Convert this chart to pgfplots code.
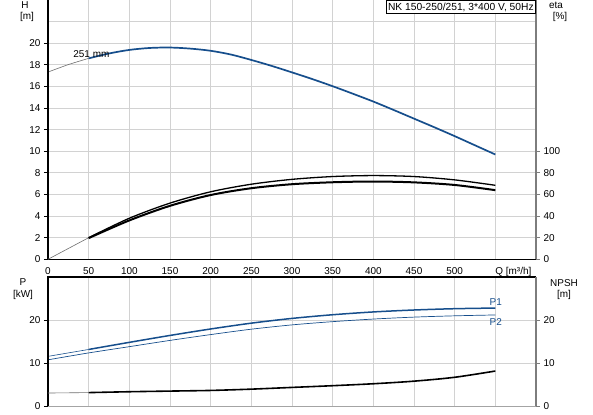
\documentclass[border=0pt]{standalone}
\usepackage{fontspec}
\setmainfont{Liberation Sans}
\usepackage{pgfplots}
\pgfplotsset{compat=1.18}
\definecolor{gblue}{RGB}{22,78,140}
\definecolor{ggrid}{RGB}{210,210,210}
\definecolor{gaxis}{RGB}{125,125,125}
\definecolor{gthin}{RGB}{110,110,110}

\pgfplotsset{
  gbase/.style={
    scale only axis, width=488bp, xmin=0, xmax=600,
    /pgf/number format/assume math mode=true,
    tick label style={font=\fontsize{10}{12}\selectfont},
    axis line style={draw=none},
    tick align=outside,
    major tick length=4bp,
    minor tick length=0pt,
    y tick style={black, line width=0.8bp},
    x tick style={draw=none},
    grid style={ggrid, line width=1bp},
    clip=false,
  },
  gsec/.style={
    gbase, xtick=\empty, ytick pos=right,
    y tick style={gaxis, line width=0.8bp},
  },
}

\begin{document}
\begin{tikzpicture}[font=\fontsize{10}{12}\selectfont]

% ---------- upper chart: H and eta ----------
\begin{axis}[gbase, at={(0,0)}, anchor=south west, height=259.3bp,
  ymin=0, ymax=24, ytick pos=left,
  xtick={0,50,...,500},
  extra x ticks={550},
  extra x tick labels={Q [m³/h]},
  extra x tick style={tick label style={anchor=north west, xshift=-3.5bp}},
  ytick={0,2,...,20}, minor ytick={22},
  xmajorgrids, ymajorgrids, yminorgrids,
  minor grid style={ggrid, line width=1bp},
  xticklabel style={yshift=-0.5bp},
]
  \addplot[gthin, line width=0.6bp, smooth] coordinates {
    (0,17.33) (25,18.02) (50,18.6)
  };
  \addplot[gblue, line width=1.7bp, smooth] coordinates {
    (50,18.6) (75,19.05) (100,19.38) (125,19.56) (150,19.6) (175,19.5)
    (200,19.3) (225,18.95) (250,18.45) (275,17.9) (300,17.3) (325,16.68)
    (350,16.02) (375,15.32) (400,14.6) (425,13.82) (450,13.02) (475,12.22)
    (500,11.4) (525,10.55) (550,9.7)
  };
  \node[anchor=west, inner sep=0pt] at (axis cs:31,18.95) {251 mm};
  \draw[black, line width=1.5bp] (rel axis cs:0,1) -- (rel axis cs:0,0) -- (rel axis cs:1,0);
  \draw[gaxis, line width=1.5bp] (rel axis cs:1,0) -- (rel axis cs:1,1);
  \node[draw=black, line width=0.6bp, fill=white, anchor=north east,
        inner xsep=2bp, inner ysep=2.3bp, font=\fontsize{10.3}{11}\selectfont]
    at (rel axis cs:1,1) {NK 150-250/251, 3*400 V, 50Hz};
\end{axis}

\begin{axis}[gsec, at={(0,0)}, anchor=south west, height=259.3bp,
  ymin=0, ymax=240, ytick={0,20,...,100}]
  \addplot[gthin, line width=0.6bp] coordinates {(0,0) (50,20)};
  \addplot[black, line width=1.3bp, smooth] coordinates {
    (50,20) (100,38) (150,52) (200,62.5) (250,69.5) (300,74) (350,76.6)
    (400,77.5) (450,76.6) (500,73.5) (550,68.5)
  };
  \addplot[black, line width=2bp, smooth] coordinates {
    (50,19.6) (100,36) (150,49.5) (200,59.5) (250,65.8) (300,69.5)
    (350,71.3) (400,72) (450,71.2) (500,68.8) (550,64)
  };
\end{axis}

% ---------- lower chart: P and NPSH ----------
\begin{axis}[gbase, at={(0,-17.7bp)}, anchor=north west, height=129.4bp,
  ymin=0, ymax=30, ytick pos=left,
  xtick={0,50,...,550}, xticklabels={},
  ytick={0,10,20},
  xmajorgrids, ymajorgrids,
]
  \addplot[gblue, line width=0.6bp, smooth] coordinates {
    (0,11.6) (25,12.4) (50,13.2)
  };
  \addplot[gblue, line width=1.5bp, smooth] coordinates {
    (50,13.2) (100,14.85) (150,16.45) (200,17.95) (250,19.3) (300,20.4)
    (350,21.25) (400,21.9) (450,22.35) (500,22.65) (550,22.8)
  };
  \addplot[gblue, line width=0.7bp, smooth] coordinates {
    (0,10.8) (50,12.4) (100,13.85) (150,15.3) (200,16.65) (250,17.9)
    (300,18.9) (350,19.65) (400,20.25) (450,20.7) (500,21.0) (550,21.2)
  };
  \node[gblue, inner sep=0pt] at (axis cs:550.5,24.2) {P1};
  \node[gblue, inner sep=0pt] at (axis cs:550.5,19.5) {P2};
  \draw[black, line width=1.5bp] (rel axis cs:1,1) -- (rel axis cs:0,1) -- (rel axis cs:0,0);
  \draw[gaxis!70, line width=1.5bp] (rel axis cs:0,0) -- (rel axis cs:1,0);
  \draw[gaxis, line width=1.5bp] (rel axis cs:1,0) -- (rel axis cs:1,1);
\end{axis}

\begin{axis}[gsec, at={(0,-17.7bp)}, anchor=north west, height=129.4bp,
  ymin=0, ymax=30, ytick={0,10,20}]
  \addplot[gthin, line width=0.6bp] coordinates {(0,3.1) (50,3.2)};
  \addplot[black, line width=1.6bp, smooth] coordinates {
    (50,3.2) (100,3.4) (150,3.55) (200,3.7) (250,4.0) (300,4.4) (350,4.8)
    (400,5.25) (450,5.85) (500,6.75) (550,8.2)
  };
\end{axis}

% ---------- axis titles ----------
\node at (-23bp,254.3bp) {H};
\node at (-21bp,242.3bp) {[m]};
\node at (508bp,254.3bp) {eta};
\node at (512bp,242.3bp) {[\%]};
\node at (-25bp,-22.7bp) {P};
\node at (-25bp,-35.7bp) {[kW]};
\node at (516bp,-23.7bp) {NPSH};
\node at (516bp,-35.7bp) {[m]};

\pgfresetboundingbox
\path (-48bp,-155.7bp) rectangle (545bp,259.3bp);
\end{tikzpicture}
\end{document}
